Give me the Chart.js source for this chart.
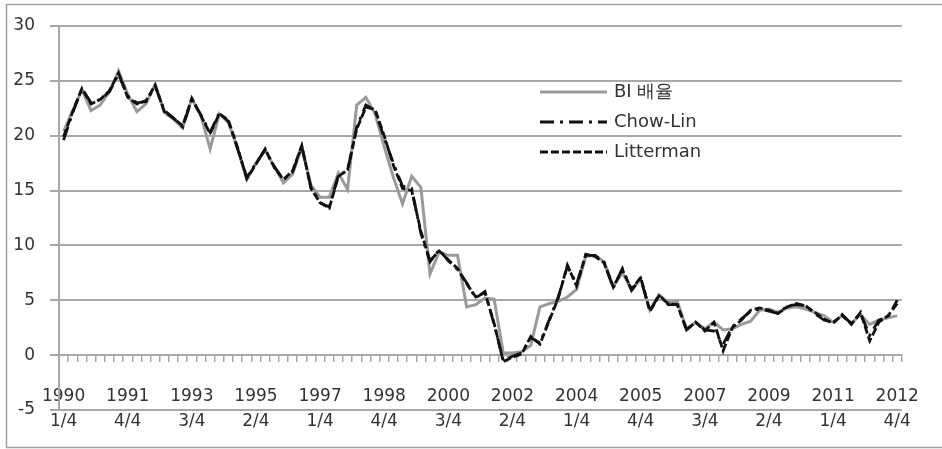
<!DOCTYPE html>
<html>
<head>
<meta charset="utf-8">
<script src="https://cdn.jsdelivr.net/npm/chart.js@4.4.1/dist/chart.umd.min.js"></script>
<style>
  html, body { margin: 0; padding: 0; background: #ffffff; }
  #wrap { position: relative; width: 942px; height: 449px; }
</style>
</head>
<body>
<div id="wrap"><canvas id="c" width="942" height="449"></canvas></div>
<script>
// Categories: quarters 1990 1/4 .. 2012 4/4
const years = [1990,1991,1992,1993,1994,1995,1996,1997,1998,1999,2000,2001,2002,2003,2004,2005,2006,2007,2008,2009,2010,2011,2012];
const quarters = ['1/4','2/4','3/4','4/4'];
const categories = [];
years.forEach(y => quarters.forEach(q => categories.push(y + ' ' + q)));

// Tick labels shown every 7th quarter
const tickLabels = [
  ['1990','1/4'], ['1991','4/4'], ['1993','3/4'], ['1995','2/4'], ['1997','1/4'],
  ['1998','4/4'], ['2000','3/4'], ['2002','2/4'], ['2004','1/4'], ['2005','4/4'],
  ['2007','3/4'], ['2009','2/4'], ['2011','1/4'], ['2012','4/4']
];
const yTicks = [-5, 0, 5, 10, 15, 20, 25, 30];

const seriesNames = ['BI 배율', 'Chow-Lin', 'Litterman'];

const biRatio = [
  20.4, 22.3, 24.2, 22.3, 22.8, 24.0, 25.9, 23.8, 22.2, 22.9,
  24.7, 22.1, 21.5, 20.7, 23.4, 21.8, 18.8, 22.0, 21.2, 18.8,
  16.0, 17.5, 18.7, 17.2, 15.7, 16.5, 19.0, 15.5, 14.4, 14.4,
  16.6, 15.1, 22.8, 23.5, 22.0, 19.0, 16.2, 13.8, 16.3, 15.3,
  7.4, 9.4, 9.1, 9.1, 4.4, 4.6, 5.2, 5.1, 0.2, 0.2,
  0.3, 0.9, 4.4, 4.7, 4.9, 5.3, 6.0, 9.0, 9.1, 8.5,
  6.3, 7.5, 6.0, 6.9, 4.1, 5.5, 4.8, 4.9, 2.4, 3.0,
  2.4, 3.0, 2.3, 2.4, 2.8, 3.1, 4.1, 4.2, 3.9, 4.3,
  4.4, 4.2, 3.9, 3.6, 3.0, 3.6, 2.9, 3.7, 2.8, 3.2,
  3.4, 3.6
];
const chowLin = [
  19.6, 22.1, 24.3, 23.0, 23.3, 24.0, 25.6, 23.6, 23.0, 23.1,
  24.5, 22.3, 21.6, 20.8, 23.3, 21.9, 20.3, 22.1, 21.3, 18.8,
  16.2, 17.5, 18.7, 17.2, 16.0, 16.7, 19.0, 15.3, 13.9, 13.5,
  16.4, 16.8, 20.8, 22.8, 22.3, 19.8, 17.5, 15.4, 15.2, 11.1,
  8.5, 9.6, 8.6, 7.8, 6.6, 5.2, 5.8, 2.8, -0.5, -0.1,
  0.2, 1.6, 1.1, 3.2, 5.3, 8.1, 6.5, 9.1, 9.1, 8.5,
  6.1, 7.9, 5.9, 7.0, 4.0, 5.5, 4.6, 4.6, 2.3, 3.0,
  2.3, 2.2, 1.0, 2.6, 3.3, 4.0, 4.2, 4.0, 3.8, 4.5,
  4.6, 4.5, 3.8, 3.2, 3.0, 3.6, 2.9, 3.8, 1.8, 3.2,
  3.5, 5.0
];
const litterman = [
  19.9, 22.2, 24.3, 22.9, 23.3, 24.1, 25.7, 23.5, 22.9, 23.2,
  24.6, 22.2, 21.6, 20.9, 23.4, 21.8, 20.2, 22.0, 21.4, 18.9,
  16.1, 17.4, 18.8, 17.1, 16.0, 16.8, 19.1, 15.2, 13.9, 13.4,
  16.3, 16.9, 20.6, 22.6, 22.4, 20.0, 17.3, 15.2, 15.0, 11.3,
  8.6, 9.5, 8.7, 7.9, 6.5, 5.3, 5.7, 2.9, -0.6, -0.2,
  0.1, 1.7, 1.0, 3.1, 5.2, 8.2, 6.3, 9.2, 9.0, 8.4,
  6.2, 7.8, 6.0, 7.1, 4.0, 5.4, 4.7, 4.6, 2.3, 3.0,
  2.2, 3.0, 0.4, 2.5, 3.2, 4.1, 4.3, 4.1, 3.8, 4.4,
  4.7, 4.5, 3.9, 3.3, 2.9, 3.7, 2.8, 3.9, 1.3, 3.0,
  3.6, 4.7
];

const FONT = '"DejaVu Sans", Verdana, sans-serif';
const TEXT = '#333333';
const GRID = '#a8a8a8';

const frameAndLegend = {
  id: 'frameAndLegend',
  afterDraw(chart) {
    const ctx = chart.ctx;
    ctx.save();
    // outer frame
    ctx.strokeStyle = '#a0a0a0';
    ctx.lineWidth = 1.5;
    ctx.strokeRect(6.5, 4.5, 940, 443);
    // legend inside plot
    const x0 = 540, x1 = 607, tx = 614;
    const ys = [92, 122, 152];
    chart.data.datasets.forEach((ds, i) => {
      ctx.beginPath();
      ctx.strokeStyle = ds.borderColor;
      ctx.lineWidth = ds.borderWidth;
      ctx.setLineDash(ds.borderDash || []);
      ctx.moveTo(x0, ys[i]);
      ctx.lineTo(x1, ys[i]);
      ctx.stroke();
      ctx.setLineDash([]);
      ctx.fillStyle = TEXT;
      ctx.font = '18px ' + FONT;
      ctx.textBaseline = 'middle';
      ctx.textAlign = 'left';
      ctx.fillText(ds.label, tx, ys[i]);
    });
    ctx.restore();
  }
};

new Chart(document.getElementById('c'), {
  type: 'line',
  data: {
    labels: categories,
    datasets: [
      { label: seriesNames[0], data: biRatio, borderColor: '#9a9a9a', borderWidth: 3, pointRadius: 0, tension: 0, order: 3 },
      { label: seriesNames[1], data: chowLin, borderColor: '#111111', borderWidth: 2.8, borderDash: [14, 6, 3, 6], pointRadius: 0, tension: 0, order: 1 },
      { label: seriesNames[2], data: litterman, borderColor: '#111111', borderWidth: 2.8, borderDash: [8, 3], pointRadius: 0, tension: 0, order: 2 }
    ]
  },
  options: {
    responsive: false,
    animation: false,
    devicePixelRatio: 1,
    layout: { padding: { left: 0, top: 26, right: 30, bottom: 39 } },
    plugins: { legend: { display: false }, tooltip: { enabled: false } },
    scales: {
      x: {
        type: 'category',
        position: { y: 0 },
        offset: true,
        grid: { display: true, drawOnChartArea: false, drawTicks: true, tickLength: 6, offset: true, color: GRID, lineWidth: 1.5 },
        border: { display: true, color: GRID, width: 2 },
        ticks: {
          autoSkip: false, maxRotation: 0, minRotation: 0, padding: 23,
          color: TEXT,
          font: { family: FONT, size: 17, lineHeight: 1.47 },
          callback: (v, i) => (i % 7 === 0 ? tickLabels[i / 7] : '')
        }
      },
      y: {
        min: -5, max: 30,
        afterBuildTicks: (s) => { s.ticks = yTicks.map(v => ({ value: v })); },
        afterFit: (s) => { s.width = 59; },
        grid: { color: GRID, lineWidth: 2, tickLength: 9, drawTicks: true },
        border: { display: true, color: GRID, width: 2 },
        ticks: { padding: 15, color: TEXT, font: { family: FONT, size: 17 } }
      }
    }
  },
  plugins: [frameAndLegend]
});
</script>
</body>
</html>
